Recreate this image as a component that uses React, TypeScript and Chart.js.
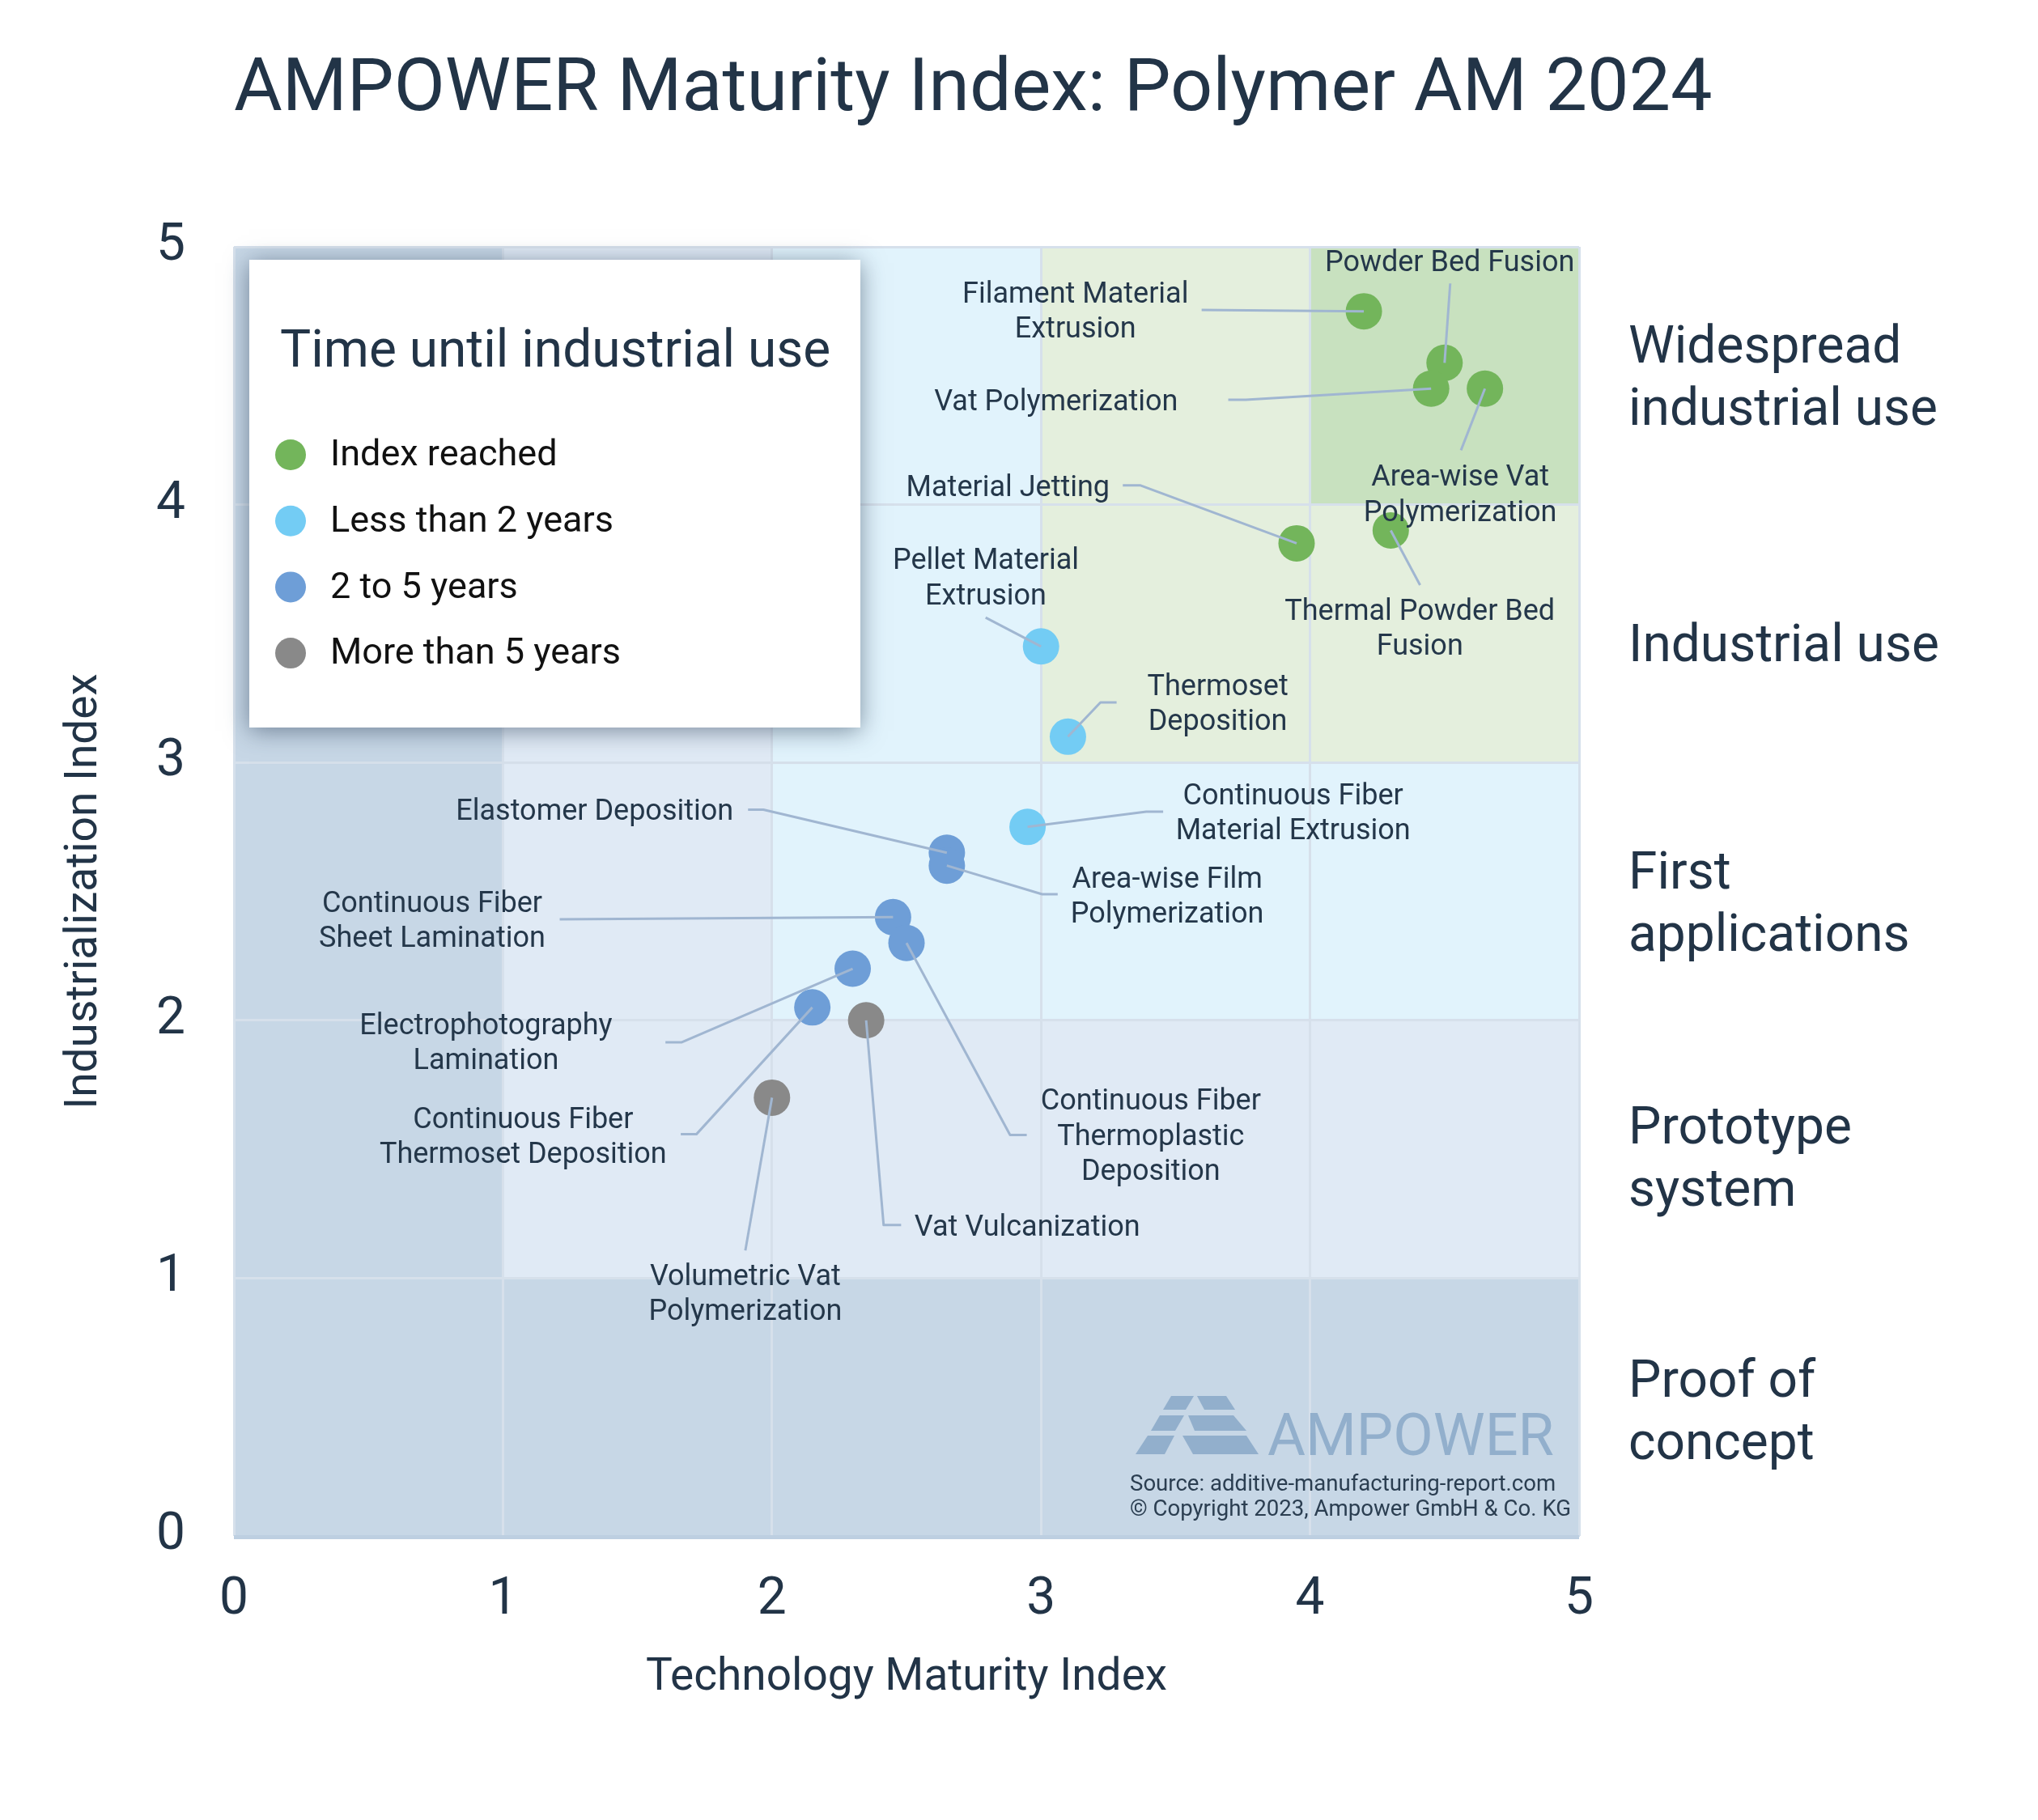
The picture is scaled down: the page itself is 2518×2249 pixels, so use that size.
import { useEffect, useRef } from 'react';
import { Chart, registerables } from 'chart.js';

Chart.register(...registerables);

// ---------------- data ----------------
const chartTitle = 'AMPOWER Maturity Index: Polymer AM 2024';
const xAxisTitle = 'Technology Maturity Index';
const yAxisTitle = 'Industrialization Index';
const legendTitle = 'Time until industrial use';

const categories = ['Index reached', 'Less than 2 years', '2 to 5 years', 'More than 5 years'];

const technologies = [
  'Filament Material Extrusion',
  'Powder Bed Fusion',
  'Vat Polymerization',
  'Area-wise Vat Polymerization',
  'Material Jetting',
  'Thermal Powder Bed Fusion',
  'Pellet Material Extrusion',
  'Thermoset Deposition',
  'Continuous Fiber Material Extrusion',
  'Elastomer Deposition',
  'Area-wise Film Polymerization',
  'Continuous Fiber Sheet Lamination',
  'Electrophotography Lamination',
  'Continuous Fiber Thermoset Deposition',
  'Continuous Fiber Thermoplastic Deposition',
  'Vat Vulcanization',
  'Volumetric Vat Polymerization',
];
const technologyMaturity = [4.2, 4.5, 4.45, 4.65, 3.95, 4.3, 3.0, 3.1, 2.95, 2.65, 2.65, 2.45, 2.3, 2.15, 2.5, 2.35, 2.0];
const industrializationIndex = [4.75, 4.55, 4.45, 4.45, 3.85, 3.9, 3.45, 3.1, 2.75, 2.65, 2.6, 2.4, 2.2, 2.05, 2.3, 2.0, 1.7];
const timeCategory = [0, 0, 0, 0, 0, 0, 1, 1, 1, 2, 2, 2, 2, 2, 2, 3, 3];

const axisMin = 0;
const axisMax = 5;
const tickStep = 1;

const stageLabels = [
  ['Proof of', 'concept'],
  ['Prototype', 'system'],
  ['First', 'applications'],
  ['Industrial use'],
  ['Widespread', 'industrial use'],
];

const sourceLines = ['Source: additive-manufacturing-report.com', '\u00A9 Copyright 2023, Ampower GmbH & Co. KG'];
const watermarkText = 'AMPOWER';

// ---------------- styles & layout (not data) ----------------
const categoryColors = ['#73B55B', '#73CCF4', '#6E9ED7', '#898989'];
const levelColors = ['#C7D7E6', '#E0EAF5', '#E1F3FC', '#E4EFDD', '#C8E1BF'];
const gridColor = '#D6E0EB';
const textColor = '#223447';
const leaderColor = '#A0B6D1';
const watermarkColor = '#92AFCC';
const FONT = 'Roboto';

// Label text block centres and leader elbows, in data units (index matches technologies)
const labelLayout: { lines: string[]; at: [number, number]; path: [number, number][] }[] = [
  { lines: ['Filament Material', 'Extrusion'], at: [3.128, 4.756], path: [[3.597, 4.755]] },
  { lines: ['Powder Bed Fusion'], at: [4.519, 4.945], path: [[4.521, 4.858]] },
  { lines: ['Vat Polymerization'], at: [3.056, 4.405], path: [[3.696, 4.407], [3.761, 4.407]] },
  { lines: ['Area-wise Vat', 'Polymerization'], at: [4.558, 4.045], path: [[4.561, 4.211]] },
  { lines: ['Material Jetting'], at: [2.877, 4.073], path: [[3.304, 4.075], [3.368, 4.075]] },
  { lines: ['Thermal Powder Bed', 'Fusion'], at: [4.408, 3.526], path: [[4.409, 3.688]] },
  { lines: ['Pellet Material', 'Extrusion'], at: [2.795, 3.722], path: [[2.794, 3.562]] },
  { lines: ['Thermoset', 'Deposition'], at: [3.657, 3.233], path: [[3.281, 3.233], [3.221, 3.233]] },
  { lines: ['Continuous Fiber', 'Material Extrusion'], at: [3.937, 2.81], path: [[3.454, 2.809], [3.391, 2.809]] },
  { lines: ['Elastomer Deposition'], at: [1.341, 2.818], path: [[1.911, 2.817], [1.968, 2.817]] },
  { lines: ['Area-wise Film', 'Polymerization'], at: [3.469, 2.487], path: [[3.062, 2.489], [3.004, 2.489]] },
  { lines: ['Continuous Fiber', 'Sheet Lamination'], at: [0.737, 2.392], path: [[1.211, 2.392]] },
  { lines: ['Electrophotography', 'Lamination'], at: [0.937, 1.918], path: [[1.604, 1.915], [1.665, 1.915]] },
  { lines: ['Continuous Fiber', 'Thermoset Deposition'], at: [1.075, 1.555], path: [[1.661, 1.558], [1.719, 1.558]] },
  { lines: ['Continuous Fiber', 'Thermoplastic', 'Deposition'], at: [3.408, 1.557], path: [[2.947, 1.555], [2.885, 1.555]] },
  { lines: ['Vat Vulcanization'], at: [2.949, 1.205], path: [[2.48, 1.206], [2.415, 1.206]] },
  { lines: ['Volumetric Vat', 'Polymerization'], at: [1.901, 0.945], path: [[1.901, 1.107]] },
];
const stageLabelCenters = [0.49, 1.474, 2.461, 3.465, 4.501];

function drawBlock(ctx: CanvasRenderingContext2D, lines: string[], cx: number, cy: number, lh: number, fs: number) {
  const n = lines.length;
  lines.forEach((t, k) => {
    ctx.fillText(t, cx, cy + (k - (n - 1) / 2) * lh + 0.355 * fs);
  });
}

const backgroundPlugin = {
  id: 'stageBackground',
  beforeDraw(chart: any) {
    const { ctx, scales } = chart;
    const x = scales.x;
    const y = scales.y;
    ctx.save();
    ctx.fillStyle = '#ffffff';
    ctx.fillRect(0, 0, chart.width, chart.height);
    for (let i = axisMin; i < axisMax; i++) {
      for (let j = axisMin; j < axisMax; j++) {
        const lvl = Math.min(i, j);
        const x0 = x.getPixelForValue(i);
        const x1 = x.getPixelForValue(i + 1);
        const y0 = y.getPixelForValue(j + 1);
        const y1 = y.getPixelForValue(j);
        ctx.fillStyle = levelColors[lvl];
        ctx.fillRect(Math.floor(x0), Math.floor(y0), Math.ceil(x1 - x0) + 1, Math.ceil(y1 - y0) + 1);
      }
    }
    ctx.restore();
  },
  beforeDatasetsDraw(chart: any) {
    const { ctx, chartArea } = chart;
    ctx.save();
    // bottom edge shade
    ctx.fillStyle = '#BDCFE1';
    ctx.fillRect(chartArea.left, chartArea.bottom - 1, chartArea.right - chartArea.left, 5);
    // watermark logo
    ctx.fillStyle = watermarkColor;
    const ox = chartArea.right - 552;
    const oy = chartArea.bottom - 173;
    const rows: [number, number, number[], number[]][] = [
      [0, 17, [48, 76, 38, 66], [80, 116, 89, 127]],
      [24, 43, [34, 64, 23, 53], [69, 125, 77, 141]],
      [49, 72, [19, 52, 4, 40], [62, 141, 75, 156]],
    ];
    rows.forEach(([t, b, L, R]) => {
      [L, R].forEach((p) => {
        ctx.beginPath();
        ctx.moveTo(ox + p[0], oy + t);
        ctx.lineTo(ox + p[1], oy + t);
        ctx.lineTo(ox + p[3], oy + b);
        ctx.lineTo(ox + p[2], oy + b);
        ctx.closePath();
        ctx.fill();
      });
    });
    ctx.font = `400 72px ${FONT}`;
    ctx.textAlign = 'left';
    ctx.textBaseline = 'alphabetic';
    ctx.fillText(watermarkText, ox + 167, oy + 73);
    ctx.fillStyle = '#2B3E51';
    ctx.font = `400 27.6px ${FONT}`;
    ctx.fillText(sourceLines[0], ox - 3, chartArea.bottom - 56);
    ctx.fillText(sourceLines[1], ox - 3, chartArea.bottom - 25);
    ctx.restore();
  },
};

const overlayPlugin = {
  id: 'annotationsOverlay',
  afterDatasetsDraw(chart: any) {
    const { ctx, scales } = chart;
    const x = scales.x;
    const y = scales.y;
    ctx.save();
    ctx.strokeStyle = leaderColor;
    ctx.lineWidth = 3;
    ctx.lineJoin = 'round';
    labelLayout.forEach((L, i) => {
      ctx.beginPath();
      L.path.forEach(([px, py], k) => {
        const X = x.getPixelForValue(px);
        const Y = y.getPixelForValue(py);
        if (k === 0) ctx.moveTo(X, Y);
        else ctx.lineTo(X, Y);
      });
      ctx.lineTo(x.getPixelForValue(technologyMaturity[i]), y.getPixelForValue(industrializationIndex[i]));
      ctx.stroke();
    });
    ctx.fillStyle = '#24374A';
    ctx.font = `400 36px ${FONT}`;
    ctx.textAlign = 'center';
    ctx.textBaseline = 'alphabetic';
    labelLayout.forEach((L) => {
      drawBlock(ctx, L.lines, x.getPixelForValue(L.at[0]), y.getPixelForValue(L.at[1]), 43.4, 36);
    });
    ctx.restore();
  },
  afterDraw(chart: any) {
    const { ctx, chartArea, scales } = chart;
    const y = scales.y;
    ctx.save();
    // main title
    ctx.fillStyle = textColor;
    ctx.font = `400 91.7px ${FONT}`;
    ctx.textAlign = 'left';
    ctx.textBaseline = 'alphabetic';
    ctx.fillText(chartTitle, chartArea.left, 136);

    // stage labels on the right
    ctx.font = `400 64px ${FONT}`;
    stageLabels.forEach((lines, i) => {
      ctx.textAlign = 'left';
      const cy = y.getPixelForValue(stageLabelCenters[i]);
      const n = lines.length;
      lines.forEach((t, k) => {
        ctx.fillText(t, chartArea.right + 61, cy + (k - (n - 1) / 2) * 77 + 0.355 * 64);
      });
    });

    // legend box
    const bx = chartArea.left + 19;
    const by = chartArea.top + 16;
    const bw = 755;
    const bh = 578;
    ctx.save();
    ctx.shadowColor = 'rgba(40,60,85,0.55)';
    ctx.shadowBlur = 28;
    ctx.shadowOffsetX = 0;
    ctx.shadowOffsetY = 4;
    ctx.fillStyle = '#ffffff';
    ctx.fillRect(bx, by, bw, bh);
    ctx.restore();
    ctx.fillStyle = '#ffffff';
    ctx.fillRect(bx, by, bw, bh);

    ctx.fillStyle = textColor;
    ctx.font = `400 64px ${FONT}`;
    ctx.textAlign = 'left';
    ctx.fillText(legendTitle, bx + 38, by + 132);

    ctx.font = `400 45px ${FONT}`;
    chart.data.datasets.forEach((ds: any, k: number) => {
      const cy = by + 241 + k * 81.7;
      ctx.fillStyle = ds.backgroundColor;
      ctx.beginPath();
      ctx.arc(bx + 51, cy, 19, 0, Math.PI * 2);
      ctx.fill();
      ctx.fillStyle = '#111111';
      ctx.textBaseline = 'middle';
      ctx.fillText(ds.label, bx + 100, cy + 2);
    });
    ctx.restore();
  },
};

export default function App() {
  const ref = useRef<HTMLCanvasElement>(null);
  useEffect(() => {
    document.body.style.margin = '0';
    const canvas = ref.current;
    if (!canvas) return;
    const datasets = categories.map((cat, c) => ({
      label: cat,
      data: technologies
        .map((_, i) => i)
        .filter((i) => timeCategory[i] === c)
        .map((i) => ({ x: technologyMaturity[i], y: industrializationIndex[i] })),
      backgroundColor: categoryColors[c],
      borderWidth: 0,
      pointRadius: 22.5,
      pointHoverRadius: 22.5,
    }));
    const tickFont = { family: FONT, size: 64 };
    const titleFont = { family: FONT, size: 55 };
    const chart = new Chart(canvas, {
      type: 'scatter',
      data: { datasets },
      options: {
        responsive: false,
        animation: false,
        devicePixelRatio: 1,
        events: [],
        layout: { padding: { left: 0, top: 305, right: 567, bottom: 0 } },
        plugins: {
          legend: { display: false },
          title: { display: false },
          tooltip: { enabled: false },
        },
        scales: {
          x: {
            type: 'linear',
            min: axisMin,
            max: axisMax,
            ticks: { stepSize: tickStep, padding: 42, color: textColor, font: tickFont },
            grid: { color: gridColor, lineWidth: 3, drawTicks: false },
            border: { display: false },
            title: { display: true, text: xAxisTitle, color: textColor, font: titleFont, padding: { top: 0, bottom: 142 } },
            afterFit: (s: any) => {
              s.height = 351;
            },
          },
          y: {
            type: 'linear',
            min: axisMin,
            max: axisMax,
            ticks: { stepSize: tickStep, padding: 60, color: textColor, font: tickFont },
            grid: { color: gridColor, lineWidth: 3, drawTicks: false },
            border: { display: false },
            title: { display: true, text: yAxisTitle, color: textColor, font: titleFont, padding: { top: 72, bottom: 0 } },
            afterFit: (s: any) => {
              s.width = 289;
            },
          },
        },
      } as any,
      plugins: [backgroundPlugin, overlayPlugin],
    });
    return () => chart.destroy();
  }, []);
  return (
    <canvas
      ref={ref}
      width={2518}
      height={2249}
      style={{ display: 'block', width: '2518px', height: '2249px' }}
    />
  );
}
